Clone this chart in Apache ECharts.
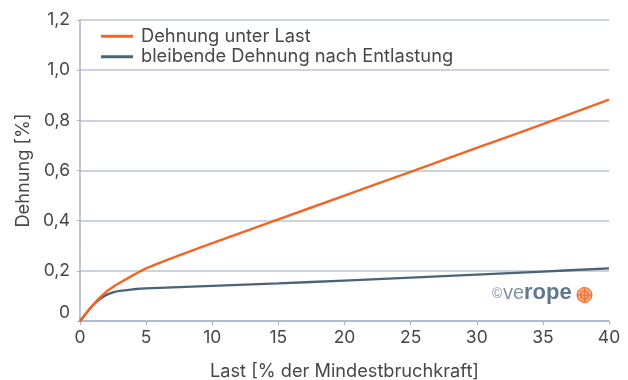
<!DOCTYPE html>
<html>
<head>
<meta charset="utf-8">
<script src="https://cdn.jsdelivr.net/npm/echarts@6/dist/echarts.min.js"></script>
<style>
  html, body { margin: 0; padding: 0; background: #fff; }
  #chart { width: 628px; height: 380px; }
</style>
</head>
<body>
<div id="chart"></div>
<script>
// Last in % der Mindestbruchkraft
const loadUnderLoad = [0, 0.5, 1, 1.5, 2, 2.5, 3, 4, 5, 10, 15, 20, 25, 30, 35, 40];
const strainUnderLoad = [0, 0.033, 0.065, 0.093, 0.117, 0.136, 0.152, 0.182, 0.21, 0.31, 0.405, 0.5, 0.595, 0.69, 0.785, 0.883];

const loadPermanent = [0, 0.5, 1, 1.5, 2, 2.5, 3, 4, 5, 10, 15, 20, 25, 30, 35, 40];
const strainPermanent = [0, 0.033, 0.064, 0.088, 0.104, 0.114, 0.12, 0.126, 0.13, 0.14, 0.15, 0.161, 0.173, 0.185, 0.197, 0.21];

const seriesNames = ['Dehnung unter Last', 'bleibende Dehnung nach Entlastung'];
const xTicks = [0, 5, 10, 15, 20, 25, 30, 35, 40];
const yTicks = [0, 0.2, 0.4, 0.6, 0.8, 1.0, 1.2];

const FONT = 'Inter, "Liberation Sans", Arial, sans-serif';
const LOGO_FONT = '"Liberation Sans", Arial, sans-serif';
const AXIS_COLOR = '#aab4c4';
const TEXT_COLOR = '#474747';

const pairs = (xs, ys) => xs.map((x, i) => [x, ys[i]]);

const chart = echarts.init(document.getElementById('chart'));
chart.setOption({
  animation: false,
  textStyle: { fontFamily: FONT },
  grid: { left: 80, right: 19, top: 20, bottom: 59, containLabel: false, outerBoundsMode: 'none' },
  legend: {
    orient: 'vertical',
    left: 96,
    top: 21,
    itemWidth: 32,
    itemHeight: 3,
    itemGap: 0,
    icon: 'rect',
    textStyle: { fontFamily: FONT, fontSize: 18.3, color: TEXT_COLOR, padding: [0, 0, 0, 3], lineHeight: 20.5 },
    data: seriesNames
  },
  xAxis: {
    type: 'value',
    min: xTicks[0],
    max: xTicks[xTicks.length - 1],
    interval: 5,
    name: 'Last [% der Mindestbruchkraft]',
    nameLocation: 'middle',
    nameGap: 42,
    nameTextStyle: { fontFamily: FONT, fontSize: 18.2, color: TEXT_COLOR },
    axisLine: { show: true, lineStyle: { color: AXIS_COLOR, width: 1.5 } },
    axisTick: { show: true, length: 4, lineStyle: { color: AXIS_COLOR } },
    axisLabel: { fontFamily: FONT, fontSize: 17.5, color: TEXT_COLOR, margin: 8 },
    splitLine: { show: false }
  },
  yAxis: {
    type: 'value',
    min: yTicks[0],
    max: yTicks[yTicks.length - 1],
    interval: 0.2,
    name: 'Dehnung [%]',
    nameLocation: 'middle',
    nameGap: 45,
    nameRotate: 90,
    nameTextStyle: { fontFamily: FONT, fontSize: 18.2, color: TEXT_COLOR },
    axisLine: { show: true, lineStyle: { color: AXIS_COLOR, width: 1.5 } },
    axisTick: { show: true, length: 3, lineStyle: { color: AXIS_COLOR } },
    axisLabel: {
      fontFamily: FONT, fontSize: 17.5, color: TEXT_COLOR, margin: 10,
      // the zero label sits a little higher so it clears the x-axis "0"
      formatter: v => (v === 0 ? '{zero|0}' : v.toFixed(1).replace('.', ',')),
      rich: {
        zero: { fontFamily: FONT, fontSize: 17.5, color: TEXT_COLOR, padding: [0, 0, 16, 0] }
      }
    },
    splitLine: { show: true, lineStyle: { color: '#bcc4d2', width: 1.5 } }
  },
  series: [
    {
      name: seriesNames[0],
      type: 'line',
      data: pairs(loadUnderLoad, strainUnderLoad),
      smooth: 0.4,
      showSymbol: false,
      color: '#f26522',
      lineStyle: { color: '#f26522', width: 2.4 },
      z: 3
    },
    {
      name: seriesNames[1],
      type: 'line',
      data: pairs(loadPermanent, strainPermanent),
      smooth: 0.4,
      showSymbol: false,
      color: '#4a6477',
      lineStyle: { color: '#4a6477', width: 2.4 },
      z: 2
    }
  ],
  graphic: [
    {
      type: 'group',
      left: 492,
      top: 282,
      children: [
        { type: 'text', x: 0, y: 4, style: { text: '©', font: '14px ' + LOGO_FONT, fill: '#8092a5' } },
        { type: 'text', x: 11, y: 0, style: { text: 've', font: '20px ' + LOGO_FONT, fill: '#8092a5' } },
        { type: 'text', x: 32, y: -1, style: { text: 'rope', font: 'bold 22px ' + LOGO_FONT, fill: '#60788f' } },
        { type: 'circle', shape: { cx: 92.5, cy: 12, r: 7.5 }, style: { fill: '#f6a57c', stroke: '#f26522', lineWidth: 1 } },
        { type: 'circle', shape: { cx: 92.5, cy: 12, r: 4 }, style: { fill: 'none', stroke: '#f26522', lineWidth: 1 } },
        { type: 'line', shape: { x1: 85, y1: 12, x2: 100, y2: 12 }, style: { stroke: '#f26522', lineWidth: 0.8 } },
        { type: 'line', shape: { x1: 92.5, y1: 4.5, x2: 92.5, y2: 19.5 }, style: { stroke: '#f26522', lineWidth: 0.8 } }
      ]
    }
  ]
});
</script>
</body>
</html>
